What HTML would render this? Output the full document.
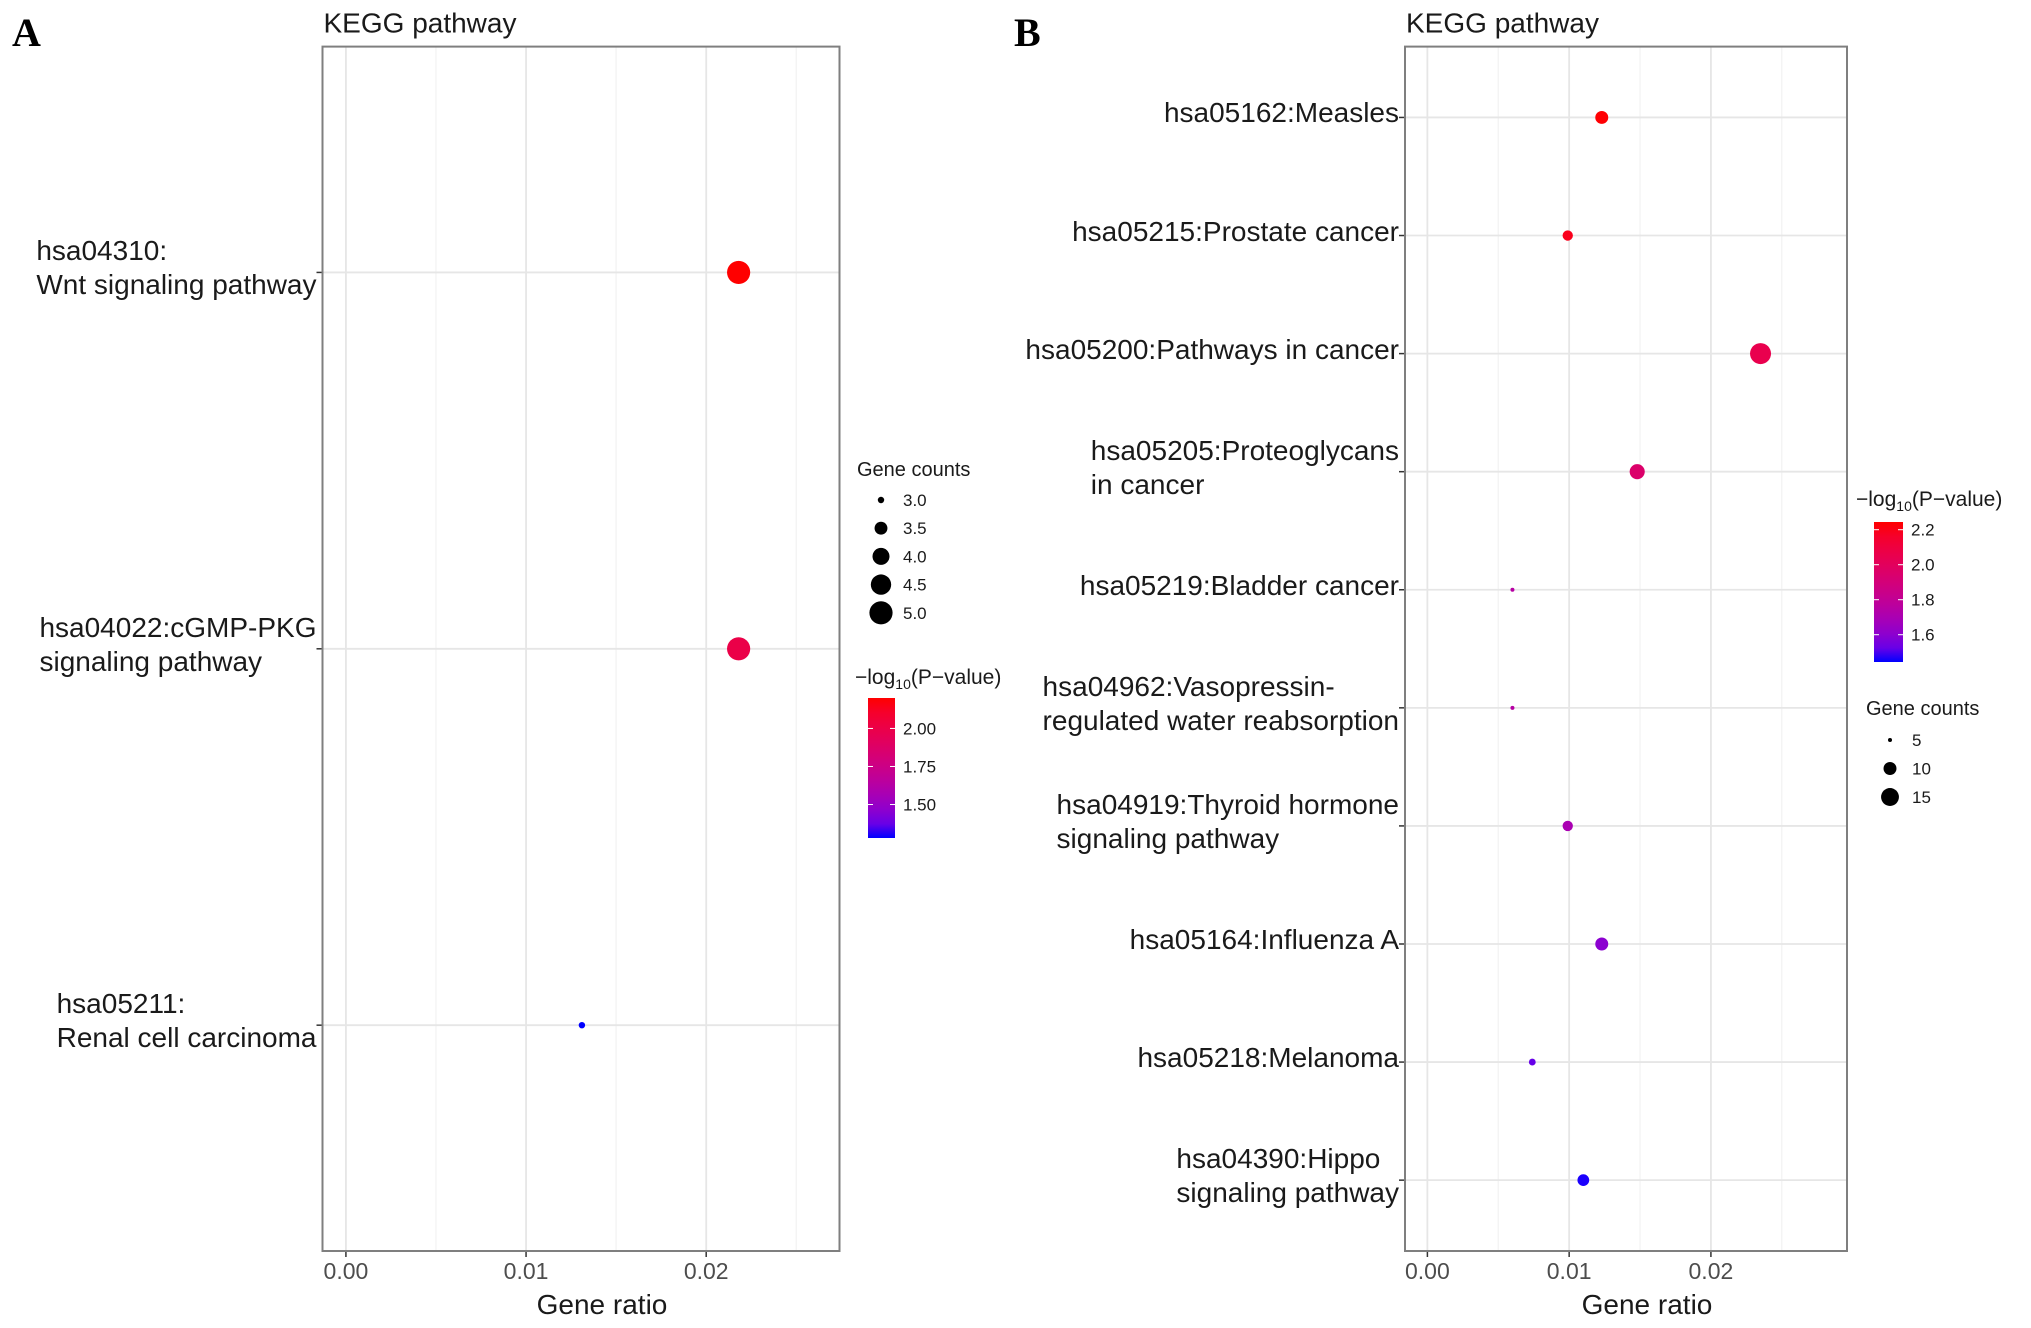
<!DOCTYPE html>
<html><head><meta charset="utf-8"><style>
html,body{margin:0;padding:0;background:#fff;}
body{width:2031px;height:1328px;overflow:hidden;position:relative;font-family:"Liberation Sans",sans-serif;}
svg{position:absolute;left:0;top:0;}
.ylab{position:absolute;font-size:28px;line-height:34px;color:#1a1a1a;text-align:left;white-space:nowrap;}
</style></head><body>
<svg id="chart" width="2031" height="1328" xmlns="http://www.w3.org/2000/svg"></svg>
<div id="labels"></div>
<script>
// Panel A data
const catsA = ["hsa04310:\nWnt signaling pathway","hsa04022:cGMP-PKG\nsignaling pathway","hsa05211:\nRenal cell carcinoma"];
const ratioA = [0.0218,0.0218,0.0131];
const countA = [5,5,3];
const pvalA = [2.2,2.0,1.28];
const ticksA = ["0.00","0.01","0.02"];
const sizeLegA = [3.0,3.5,4.0,4.5,5.0];
const colLegA = [2.00,1.75,1.50];
// Panel B data
const catsB = ["hsa05162:Measles","hsa05215:Prostate cancer","hsa05200:Pathways in cancer","hsa05205:Proteoglycans\nin cancer","hsa05219:Bladder cancer","hsa04962:Vasopressin-\nregulated water reabsorption","hsa04919:Thyroid hormone\nsignaling pathway","hsa05164:Influenza A","hsa05218:Melanoma","hsa04390:Hippo\nsignaling pathway"];
const ratioB = [0.0123,0.0099,0.0235,0.0148,0.0060,0.0060,0.0099,0.0123,0.0074,0.0110];
const countB = [10,8,19,12,5,5,8,10,6,9];
const pvalB = [2.24,2.2,2.05,1.95,1.75,1.75,1.7,1.6,1.52,1.45];
const ticksB = ["0.00","0.01","0.02"];
const sizeLegB = [5,10,15];
const colLegB = [2.2,2.0,1.8,1.6];

const NS="http://www.w3.org/2000/svg";
const svg=document.getElementById('chart');
function el(tag,attrs,parent){const e=document.createElementNS(NS,tag);for(const k in attrs)e.setAttribute(k,attrs[k]);(parent||svg).appendChild(e);return e;}
function srgb2lin(c){c/=255;return c<=0.04045?c/12.92:Math.pow((c+0.055)/1.055,2.4);}
function lin2srgb(c){c=c<=0.0031308?12.92*c:1.055*Math.pow(c,1/2.4)-0.055;return Math.max(0,Math.min(255,Math.round(c*255)));}
function toLab(r,g,b){r=srgb2lin(r);g=srgb2lin(g);b=srgb2lin(b);let X=(0.4124*r+0.3576*g+0.1805*b)/0.95047,Y=(0.2126*r+0.7152*g+0.0722*b),Z=(0.0193*r+0.1192*g+0.9505*b)/1.08883;const f=t=>t>0.008856?Math.cbrt(t):7.787*t+16/116;return [116*f(Y)-16,500*(f(X)-f(Y)),200*(f(Y)-f(Z))];}
function fromLab(L,a,b){let fy=(L+16)/116,fx=fy+a/500,fz=fy-b/200;const fi=t=>t>0.206893?t*t*t:(t-16/116)/7.787;let X=fi(fx)*0.95047,Y=fi(fy),Z=fi(fz)*1.08883;let r=3.2406*X-1.5372*Y-0.4986*Z,g=-0.9689*X+1.8758*Y+0.0415*Z,bb=0.0557*X-0.2040*Y+1.0570*Z;return `rgb(${lin2srgb(r)},${lin2srgb(g)},${lin2srgb(bb)})`;}
const LB=toLab(0,0,255),LR=toLab(255,0,0);
function col(t){t=Math.max(0,Math.min(1,t));return fromLab(LB[0]+(LR[0]-LB[0])*t,LB[1]+(LR[1]-LB[1])*t,LB[2]+(LR[2]-LB[2])*t);}
let gid=0;
function text(x,y,s,size,anchor,name,parent,extra){const t=el('text',Object.assign({x:x,y:y,'font-size':size,'text-anchor':anchor||'start',fill:'#1a1a1a','font-family':'Liberation Sans, sans-serif'},extra||{}),parent);t.textContent=s;return t;}

function panel(cfg){
  const g=el('g',{});
  
  
  const {x0,x1,y0,y1,xmin,xmax}=cfg;
  const xs=v=>x0+(v-xmin)/(xmax-xmin)*(x1-x0);
  const n=cfg.cats.length;
  const step=(y1-y0)/(n-1+1.2);
  const ys=i=>y0+step*(0.6+i);
  for(const m of [0.005,0.015,0.025]){const l=el('line',{x1:xs(m),x2:xs(m),y1:y0,y2:y1,stroke:'#f2f2f2','stroke-width':1.2},g);}
  cfg.ticks.forEach(tk=>{const v=parseFloat(tk);const l=el('line',{x1:xs(v),x2:xs(v),y1:y0,y2:y1,stroke:'#e6e6e6','stroke-width':1.8},g);
    const tl=el('line',{x1:xs(v),x2:xs(v),y1:y1,y2:y1+6,stroke:'#333','stroke-width':1.5},g);
    text(xs(v),y1+28,tk,23,'middle','x-tick-label',g,{fill:'#4d4d4d'});});
  cfg.cats.forEach((c,i)=>{const l=el('line',{x1:x0,x2:x1,y1:ys(i),y2:ys(i),stroke:'#e6e6e6','stroke-width':1.8},g);
    const tl=el('line',{x1:x0-6,x2:x0,y1:ys(i),y2:ys(i),stroke:'#333','stroke-width':1.5},g);
    const d=document.createElement('div');d.className='ylab';
    const lines=c.split('\n');d.innerHTML=lines.join('<br>');d.style.right=(2031-(x0-6))+'px';d.style.top=(ys(i)-lines.length*17-4)+'px';document.getElementById('labels').appendChild(d);});
  const fr=el('rect',{x:x0,y:y0,width:x1-x0,height:y1-y0,fill:'none',stroke:'#7f7f7f','stroke-width':2},g);
  const rad=c=>Math.sqrt(cfg.rmin*cfg.rmin+(c-cfg.cmin)/(cfg.cmax-cfg.cmin)*(cfg.rmax*cfg.rmax-cfg.rmin*cfg.rmin));
  const ct=p=>(p-cfg.pmin)/(cfg.pmax-cfg.pmin);
  cfg.cats.forEach((c,i)=>{const p=el('circle',{cx:xs(cfg.ratio[i]),cy:ys(i),r:rad(cfg.count[i]),fill:col(ct(cfg.pval[i]))},g);});
  text(x0+1,y0-14,'KEGG pathway',28,'start','plot-title',g);
  text((x0+x1)/2+21,y1+63,'Gene ratio',28,'middle','x-axis-title',g);
  const sl=cfg.sizeLeg;
  text(sl.x-24,sl.ty,'Gene counts',20,'start','size-legend-title',g);
  cfg.sizes.forEach((s,i)=>{const cy=sl.y+i*sl.dy;const c=el('circle',{cx:sl.x,cy:cy,r:rad(s),fill:'#000'},g);text(sl.x+22,cy+6,String(cfg.sizeFmt(s)),17,'start','size-legend-label',g);});
  const cl=cfg.colLeg;
  const t=text(cl.tx,cl.ty,'',21,'start','color-legend-title',g);
  t.innerHTML='<tspan>−log</tspan><tspan font-size="14" dy="5">10</tspan><tspan dy="-5">(P−value)</tspan>';
  const id='grad'+(gid++);const defs=el('defs',{},g);const lg=el('linearGradient',{id:id,x1:0,y1:1,x2:0,y2:0},defs);
  for(let k=0;k<=10;k++)el('stop',{offset:k/10,'stop-color':col(k/10)},lg);
  const bar=el('rect',{x:cl.x,y:cl.y0,width:cl.w,height:cl.y1-cl.y0,fill:`url(#${id})`},g);
  const cy=v=>cl.y1-(v-cfg.pmin)/(cfg.pmax-cfg.pmin)*(cl.y1-cl.y0);
  cfg.colTicks.forEach(v=>{const yy=cy(v);el('line',{x1:cl.x,x2:cl.x+5,y1:yy,y2:yy,stroke:'#fff','stroke-width':1},g);el('line',{x1:cl.x+cl.w-5,x2:cl.x+cl.w,y1:yy,y2:yy,stroke:'#fff','stroke-width':1},g);text(cl.x+cl.w+8,yy+6,v.toFixed(cfg.colDec),17,'start','colorbar-label',g);});
}
panel({name:'panel-a',cats:catsA,ratio:ratioA,count:countA,pval:pvalA,ticks:ticksA,x0:322.5,x1:839.5,y0:46.6,y1:1251,xmin:-0.0013,xmax:0.0274,
  rmin:3.2,rmax:11.6,cmin:3,cmax:5,pmin:1.28,pmax:2.2,sizes:sizeLegA,sizeFmt:s=>s.toFixed(1),colTicks:colLegA,colDec:2,
  sizeLeg:{x:881,y:500,dy:28.2,ty:476},colLeg:{tx:855,ty:684,x:868,w:27,y0:698,y1:838}});
panel({name:'panel-b',cats:catsB,ratio:ratioB,count:countB,pval:pvalB,ticks:ticksB,x0:1405,x1:1847,y0:46.6,y1:1251,xmin:-0.00158,xmax:0.0296,
  rmin:2,rmax:10.5,cmin:5,cmax:19,pmin:1.444,pmax:2.244,sizes:sizeLegB,sizeFmt:s=>s,colTicks:colLegB,colDec:1,
  sizeLeg:{x:1890,y:740,dy:28.5,ty:715},colLeg:{tx:1856,ty:506,x:1874,w:29,y0:522,y1:662}});
text(12,46,'A',40,'start','panel-label-a',svg,{'font-family':'Liberation Serif, serif','font-weight':'bold',fill:'#000'});
text(1014,46,'B',40,'start','panel-label-b',svg,{'font-family':'Liberation Serif, serif','font-weight':'bold',fill:'#000'});
</script>
</body></html>
